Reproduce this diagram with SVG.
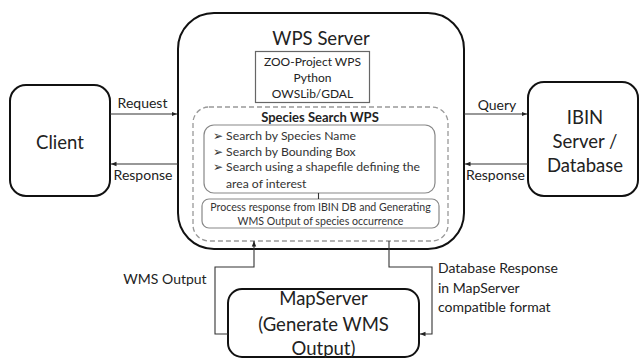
<svg xmlns="http://www.w3.org/2000/svg" width="640" height="359" viewBox="0 0 640 359">
  <style>
    text { font-family: Lato, "Open Sans", "Liberation Sans", sans-serif; fill: #222; }
    .big { font-size: 18.5px; text-anchor: middle; }
    .lbl { font-size: 14px; }
    .mid { text-anchor: middle; }
    .item { font-size: 12.2px; fill: #333; }
    .proc { font-size: 10.6px; text-anchor: middle; fill: #333; }
    .tool { font-size: 12px; text-anchor: middle; fill: #222; }
    .main { fill: #fff; stroke: #111; stroke-width: 2; }
    .sub { fill: none; stroke: #888; stroke-width: 1.2; }
    .dash { fill: none; stroke: #999; stroke-width: 1.3; stroke-dasharray: 5 3; }
    .conn { fill: none; stroke: #333; stroke-width: 1.1; }
  </style>
  <defs>
    <marker id="arr" viewBox="0 0 10 10" refX="10" refY="5" markerWidth="5" markerHeight="5" orient="auto">
      <path d="M0,1 L10,5 L0,9 z" fill="#222"/>
    </marker>
  </defs>

  <!-- Client -->
  <g id="client">
    <rect class="main" x="10" y="85" width="100" height="111" rx="16"/>
    <text class="big" x="60" y="149">Client</text>
  </g>

  <!-- WPS server with its internal components -->
  <g id="wps-server">
    <rect class="main" x="178" y="13" width="286" height="236" rx="36"/>
    <text class="big" x="321" y="45" font-size="18px">WPS Server</text>
    <rect x="255.5" y="51.5" width="114" height="51" fill="#fff" stroke="#666" stroke-width="1.2"/>
    <text class="tool" x="312.5" y="66">ZOO-Project WPS</text>
    <text class="tool" x="312.5" y="82">Python</text>
    <text class="tool" x="312.5" y="98">OWSLib/GDAL</text>
  </g>

  <g id="species-search">
    <rect class="dash" x="193" y="107" width="255" height="134" rx="16"/>
    <text x="320" y="122" text-anchor="middle" font-size="13px" font-weight="bold">Species Search WPS</text>
    <rect class="sub" x="204" y="125" width="231" height="68" rx="10"/>
    <text class="item" x="213" y="140">➢ Search by Species Name</text>
    <text class="item" x="213" y="156">➢ Search by Bounding Box</text>
    <text class="item" x="213" y="171">➢ Search using a shapefile defining the</text>
    <text class="item" x="226" y="188">area of interest</text>
  </g>

  <g id="process">
    <rect class="sub" x="202" y="199" width="237" height="29" rx="7"/>
    <text class="proc" x="320.5" y="211">Process response from IBIN DB and Generating</text>
    <text class="proc" x="320.5" y="225">WMS Output of species occurrence</text>
  </g>

  <!-- IBIN server -->
  <g id="ibin">
    <rect class="main" x="528" y="82" width="110" height="114" rx="16"/>
    <text class="big" x="585" y="124">IBIN</text>
    <text class="big" x="585" y="148">Server /</text>
    <text class="big" x="585" y="172">Database</text>
  </g>

  <!-- MapServer -->
  <g id="mapserver">
    <rect class="main" x="228" y="289" width="191" height="68" rx="14"/>
    <text class="big" x="323.5" y="305">MapServer</text>
    <text class="big" x="323.5" y="331">(Generate WMS</text>
    <text class="big" x="323.5" y="355">Output)</text>
  </g>

  <!-- connectors -->
  <g id="connectors">
    <line class="conn" x1="110" y1="114" x2="177" y2="114" marker-end="url(#arr)"/>
    <line class="conn" x1="178" y1="164" x2="111" y2="164" marker-end="url(#arr)"/>
    <line class="conn" x1="464" y1="114" x2="527" y2="114" marker-end="url(#arr)"/>
    <line class="conn" x1="528" y1="164" x2="465" y2="164" marker-end="url(#arr)"/>
    <line class="conn" x1="318.5" y1="193" x2="318.5" y2="199"/>
    <polyline class="conn" points="228,334 215,334 215,267 254,267 254,241" marker-end="url(#arr)"/>
    <polyline class="conn" points="389,241 389,267 432,267 432,334 420,334" marker-end="url(#arr)"/>
  </g>

  <!-- connector labels -->
  <g id="labels">
    <text class="lbl mid" x="142.5" y="108">Request</text>
    <text class="lbl mid" x="143" y="180">Response</text>
    <text class="lbl mid" x="497" y="110">Query</text>
    <text class="lbl mid" x="495.5" y="180">Response</text>
    <text class="lbl mid" x="165" y="284">WMS Output</text>
    <text class="lbl" x="438" y="273">Database Response</text>
    <text class="lbl" x="438" y="293">in MapServer</text>
    <text class="lbl" x="438" y="312">compatible format</text>
  </g>
</svg>
